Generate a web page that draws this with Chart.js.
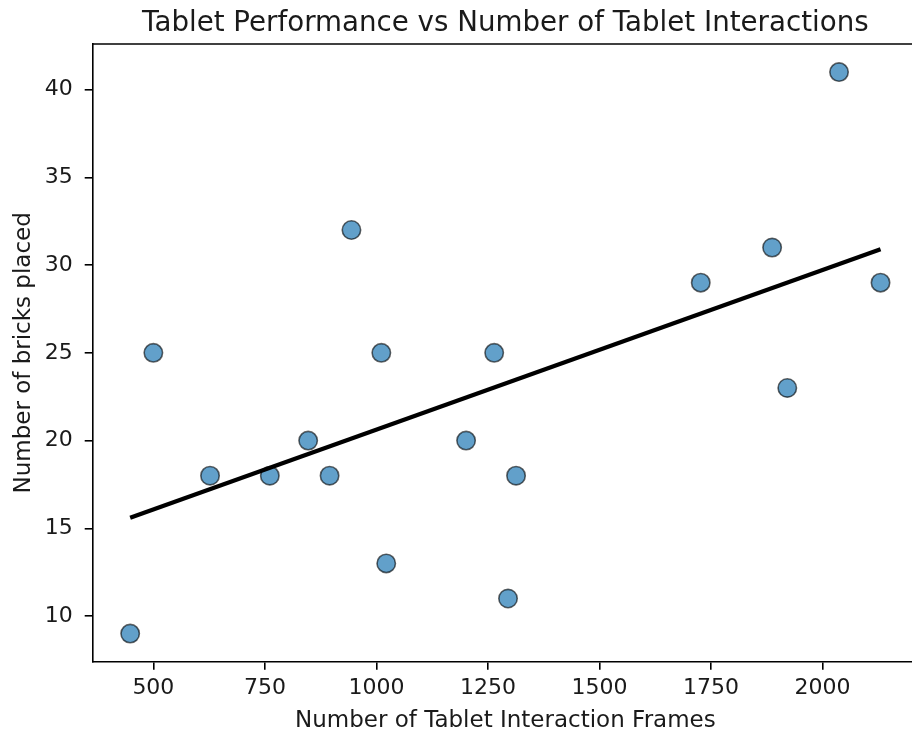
<!DOCTYPE html>
<html>
<head>
<meta charset="utf-8">
<title>Tablet Performance vs Number of Tablet Interactions</title>
<script src="https://cdn.jsdelivr.net/npm/chart.js@4.4.1/dist/chart.umd.min.js"></script>
<style>
  html, body { margin: 0; padding: 0; background: #ffffff; overflow: hidden; }
  #wrap { width: 912px; height: 736px; overflow: hidden; }
  canvas { display: block; }
</style>
</head>
<body>
<div id="wrap"><canvas id="chart" width="930" height="736"></canvas></div>
<script>
// Interaction frames per participant and bricks placed
const framesX = [448, 500, 627, 761, 847, 895, 944, 1011, 1022, 1201, 1264, 1295, 1313, 1727, 1887, 1921, 2037, 2130];
const bricksY = [9, 25, 18, 18, 20, 18, 32, 25, 13, 20, 25, 11, 18, 29, 31, 23, 41, 29];

// Linear trend endpoints
const trendX = [448, 2130];
const trendY = [15.6, 30.9];

// Axis ticks and ranges
const xTicks = [500, 750, 1000, 1250, 1500, 1750, 2000];
const yTicks = [10, 15, 20, 25, 30, 35, 40];
const xRange = [364, 2214];
const yRange = [7.4, 42.6];

const titleText = 'Tablet Performance vs Number of Tablet Interactions';
const xLabel = 'Number of Tablet Interaction Frames';
const yLabel = 'Number of bricks placed';

const FONT = "'DejaVu Sans', sans-serif";
const INK = '#1a1a1a';

const scatterPoints = framesX.map((x, i) => ({ x: x, y: bricksY[i] }));
const trendPoints = trendX.map((x, i) => ({ x: x, y: trendY[i] }));

// Frame, title and axis titles
const textAndFrame = {
  id: 'textAndFrame',
  afterDraw(chart) {
    const { ctx, chartArea } = chart;
    ctx.save();
    ctx.strokeStyle = '#000';
    ctx.lineWidth = 1.6;
    ctx.beginPath();
    ctx.moveTo(chartArea.left, chartArea.top);
    ctx.lineTo(chartArea.right, chartArea.top);
    ctx.stroke();

    ctx.fillStyle = INK;
    ctx.textAlign = 'center';
    ctx.textBaseline = 'alphabetic';
    const cx = (chartArea.left + chartArea.right) / 2;
    ctx.font = '27.7px ' + FONT;
    ctx.fillText(titleText, cx, 30.5);

    ctx.font = '23px ' + FONT;
    ctx.fillText(xLabel, cx, 727);

    ctx.translate(29.5, (chartArea.top + chartArea.bottom) / 2);
    ctx.rotate(-Math.PI / 2);
    ctx.fillText(yLabel, 0, 0);
    ctx.restore();
  }
};

const plainTick = (v) => String(v);

new Chart(document.getElementById('chart'), {
  type: 'scatter',
  data: {
    datasets: [
      {
        type: 'line',
        data: trendPoints,
        borderColor: '#000000',
        borderWidth: 4.2,
        pointRadius: 0,
        fill: false,
        tension: 0,
        order: 0
      },
      {
        type: 'scatter',
        data: scatterPoints,
        backgroundColor: 'rgba(31, 119, 180, 0.7)',
        borderColor: 'rgba(0, 0, 0, 0.6)',
        borderWidth: 1.6,
        pointRadius: 9.2,
        pointHoverRadius: 9.2,
        order: 1
      }
    ]
  },
  options: {
    responsive: false,
    animation: false,
    devicePixelRatio: 1,
    layout: { padding: { top: 44, right: 12, left: 0, bottom: 0 } },
    plugins: {
      legend: { display: false },
      title: { display: false },
      tooltip: { enabled: false }
    },
    scales: {
      x: {
        type: 'linear',
        min: xRange[0],
        max: xRange[1],
        afterBuildTicks: (scale) => { scale.ticks = xTicks.map(v => ({ value: v })); },
        afterFit: (scale) => { scale.height = 74.3; },
        grid: { display: true, drawOnChartArea: false, drawTicks: true, tickLength: 8, color: '#000', lineWidth: 1.6 },
        border: { display: true, color: '#000', width: 1.6 },
        ticks: { color: INK, font: { family: FONT, size: 22 }, padding: 5, maxRotation: 0, autoSkip: false, callback: plainTick }
      },
      y: {
        type: 'linear',
        min: yRange[0],
        max: yRange[1],
        afterBuildTicks: (scale) => { scale.ticks = yTicks.map(v => ({ value: v })); },
        afterFit: (scale) => { scale.width = 92.7; },
        grid: { display: true, drawOnChartArea: false, drawTicks: true, tickLength: 8, color: '#000', lineWidth: 1.6 },
        border: { display: true, color: '#000', width: 1.6 },
        ticks: { color: INK, font: { family: FONT, size: 22 }, padding: 12, autoSkip: false, callback: plainTick }
      }
    }
  },
  plugins: [textAndFrame]
});
</script>
</body>
</html>
